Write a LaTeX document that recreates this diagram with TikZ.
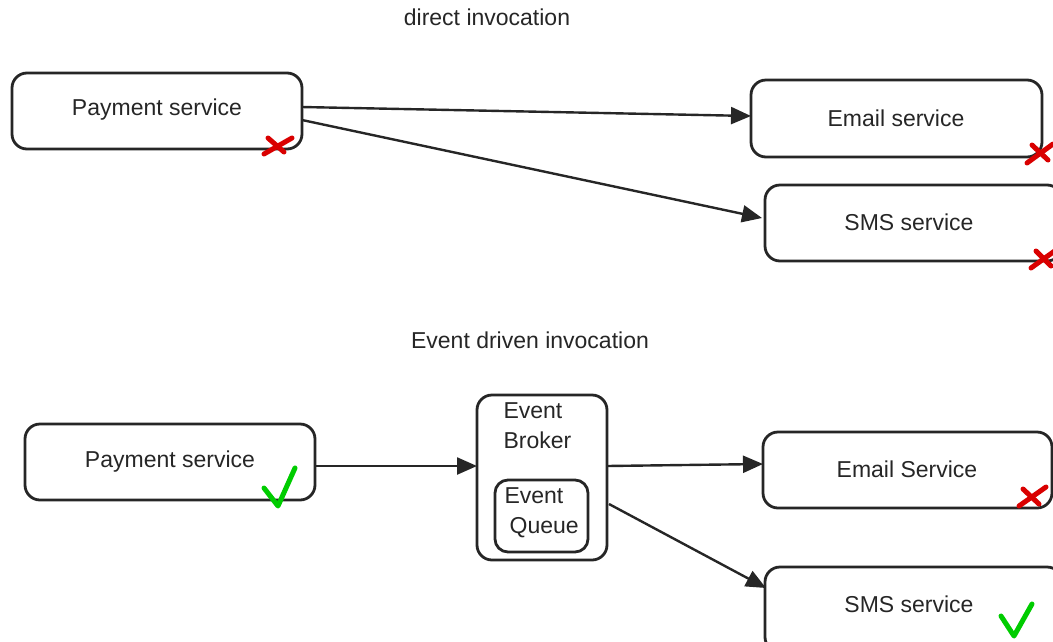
\documentclass[tikz,border=0pt]{standalone}
\usepackage{fontspec}
\setmainfont{Liberation Sans}
\usetikzlibrary{arrows.meta}
\begin{document}
\begin{tikzpicture}[x=1pt,y=-1pt,
  box/.style={draw=black!85, line width=2.8pt, rounded corners=15pt},
  lbl/.style={font=\fontsize{23}{30}\selectfont, text=black!85},
  conn/.style={draw=black!85, line width=2.4pt, -{Triangle[length=20pt,width=17pt]}},
  cross/.style={draw=red!85!black, line width=5pt, line cap=round},
  tick/.style={draw=green!80!black, line width=5pt, line cap=round, line join=round}]
\useasboundingbox (0,0) rectangle (1053,641);
% top section
\node[lbl] (t1) at (487,17) {direct invocation};
\draw[box] (12,73) rectangle (302,149);
\node[lbl] (p1) at (157,110) {Payment service};
\coordinate (p1a) at (302,107);
\coordinate (p1b) at (302,120);
\draw[box] (751,80) rectangle (1042,157);
\node[lbl] (e1) at (896,118) {Email service};
\coordinate (e1in) at (751,116);
\draw[box] (765,185) rectangle (1062,261);
\node[lbl] (s1) at (909,222) {SMS service};
\coordinate (s1in) at (762,218);
\draw[conn] (p1a) -- (e1in);
\draw[conn] (p1b) -- (s1in);
% crosses top
\draw[cross] (264,154) -- (292,138);
\draw[cross] (268,138) -- (284,152);
\draw[cross] (1027,163) -- (1053,144);
\draw[cross] (1032,145) -- (1048,160);
\draw[cross] (1031,268) -- (1056,250);
\draw[cross] (1036,251) -- (1051,266);
% bottom section
\node[lbl] (t2) at (530,340) {Event driven invocation};
\draw[box] (25,424) rectangle (315,500);
\node[lbl] (p2) at (170,462) {Payment service};
\coordinate (p2out) at (315,466);
\draw[box] (477,395) rectangle (607,560);
\node[lbl, align=left, anchor=north west] (b) at (500,399) {Event\\Broker};
\draw[box, rounded corners=13pt] (495,480) rectangle (588,552);
\node[lbl, align=left, anchor=north west] (q) at (501,484) {Event\\\hphantom{i}Queue};
\coordinate (bin) at (477,466);
\coordinate (bout1) at (607,466);
\coordinate (bout2) at (609,504);
\draw[box] (763,432) rectangle (1052,508);
\node[lbl] (e2) at (907,469) {Email Service};
\coordinate (e2in) at (763,464);
\draw[box] (765,567) rectangle (1062,652);
\node[lbl] (s2) at (909,604) {SMS service};
\coordinate (s2in) at (766,588);
\draw[conn] (p2out) -- (bin);
\draw[conn] (bout1) -- (e2in);
\draw[conn] (bout2) -- (s2in);
% marks bottom
\draw[tick] (264,488) -- (278,506) -- (295,468);
\draw[cross] (1019,506) -- (1046,487);
\draw[cross] (1023,489) -- (1039,504);
\draw[tick] (1001,616) -- (1014,636) -- (1032,604);
\end{tikzpicture}
\end{document}
